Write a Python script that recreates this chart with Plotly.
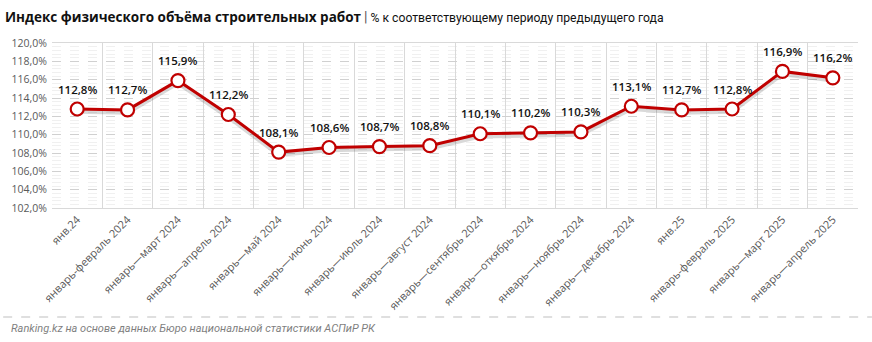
import plotly.graph_objects as go

categories = ["янв.24", "январь-февраль 2024", "январь—март 2024", "январь—апрель 2024",
              "январь—май 2024", "январь—июнь 2024", "январь—июль 2024", "январь—август 2024",
              "январь—сентябрь 2024", "январь—откябрь 2024", "январь—ноябрь 2024",
              "январь—декабрь 2024", "янв.25", "январь-февраль 2025", "январь—март 2025",
              "январь—апрель 2025"]
values = [112.8, 112.7, 115.9, 112.2, 108.1, 108.6, 108.7, 108.8, 110.1, 110.2, 110.3,
          113.1, 112.7, 112.8, 116.9, 116.2]
labels = [f"{v:.1f}%".replace(".", ",") for v in values]

RED = "#C00000"

fig = go.Figure()
# shadow
fig.add_trace(go.Scatter(
    x=categories, y=[v - 0.3 for v in values], mode="lines",
    line=dict(color="rgba(0,0,0,0.15)", width=4), hoverinfo="skip", showlegend=False))
fig.add_trace(go.Scatter(
    x=categories, y=values, mode="lines+markers",
    line=dict(color=RED, width=3),
    marker=dict(size=13, color="white", line=dict(color=RED, width=2.2)),
    showlegend=False))

for c, v, t in zip(categories, values, labels):
    fig.add_annotation(x=c, y=v, text=t, showarrow=False, yshift=20,
                       font=dict(family="Open Sans", size=11.5, color="#111111", weight=600))

fig.update_layout(
    width=872, height=342,
    margin=dict(l=49, r=14, t=43, b=134),
    paper_bgcolor="white", plot_bgcolor="white",
    separators=", ",
    xaxis=dict(type="category", range=[-0.5, len(categories) - 0.5], tickson="boundaries",
               showgrid=True, gridcolor="#d9d9d9",
               gridwidth=1, showline=True, linecolor="#d9d9d9", ticks="", tickangle=-45,
               tickfont=dict(family="Open Sans", size=11, color="#595959"), mirror=True),
    yaxis=dict(range=[102, 120], dtick=2, tickformat=".1f", ticksuffix="%",
               showgrid=True, gridcolor="#d0d0d0", griddash="dash", zeroline=False,
               tickfont=dict(family="Open Sans", size=10.5, color="#595959"),
               minor=dict(dtick=0.4, showgrid=True, gridcolor="#f0f0f0", gridwidth=1),
               ticks="", ticklabelstandoff=4),
)

fig.add_annotation(
    xref="paper", yref="paper", x=-49/809, y=1 + 26/165, xanchor="left", yanchor="middle",
    text="<b><span style='font-family:Open Sans;font-size:13.5px'>Индекс физического объёма строительных работ</span></b>"
         " <span style='color:#555;font-size:14px'>|</span>"
         " % к соответствующему периоду предыдущего года",
    showarrow=False, font=dict(family="Roboto", size=12.2, color="#111111"))

fig.add_shape(type="line", xref="paper", yref="paper",
              x0=-49/809, x1=(872-49)/809, y0=-(317-208)/165, y1=-(317-208)/165,
              line=dict(color="#bfbfbf", width=1, dash="dash"))

fig.add_annotation(
    xref="paper", yref="paper", x=-43/809, y=-(328-208)/165, xanchor="left", yanchor="middle",
    text="<i>Ranking.kz на основе данных Бюро национальной статистики АСПиР РК</i>",
    showarrow=False, font=dict(family="Roboto", size=11, color="#7f7f7f"))

fig.write_html("out.html")
